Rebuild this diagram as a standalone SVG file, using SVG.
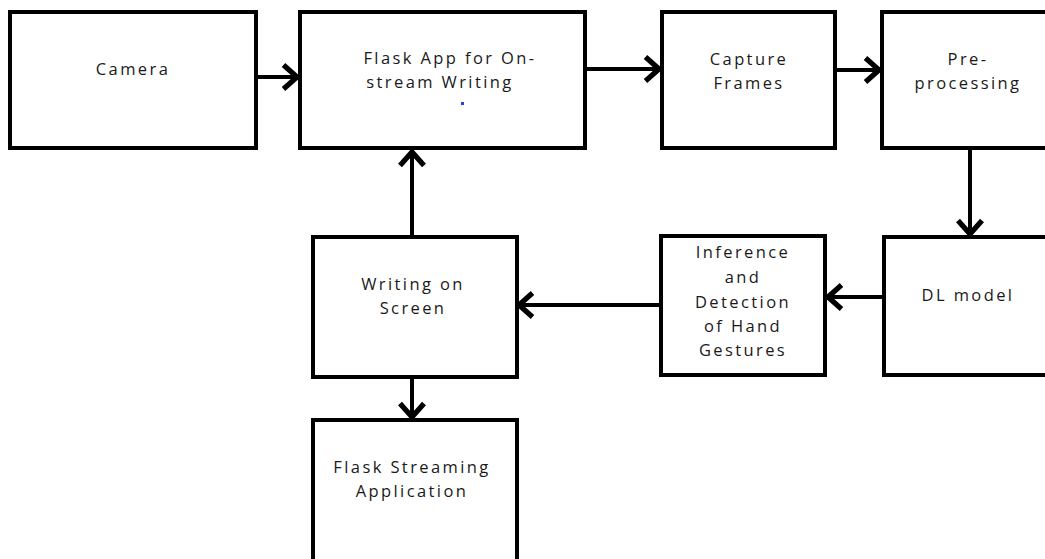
<svg xmlns="http://www.w3.org/2000/svg" width="1045" height="559" viewBox="0 0 1045 559">
<defs>
<style>
.box{fill:#fff;stroke:#000;stroke-width:4}
.t{font-family:"Open Sans","Liberation Sans",Arial,sans-serif;font-size:16.5px;letter-spacing:2.4px;fill:#1a1a1a;text-anchor:middle}
.c{stroke:#000;stroke-width:4;fill:none}
</style>
<marker id="ah" markerUnits="userSpaceOnUse" markerWidth="30" markerHeight="30" refX="14" refY="10" orient="auto" viewBox="0 0 20 20">
<path d="M5,2 L14,10 L5,18" fill="none" stroke="#000" stroke-width="3.5"/>
</marker>
</defs>
<rect width="1045" height="559" fill="#fff"/>
<g id="connectors">
<line class="c" x1="258" y1="77" x2="297" y2="77" marker-end="url(#ah)"/>
<line class="c" x1="587" y1="69" x2="659" y2="69" marker-end="url(#ah)"/>
<line class="c" x1="837" y1="70" x2="879" y2="70" marker-end="url(#ah)"/>
<line class="c" x1="970" y1="150" x2="970" y2="234" marker-end="url(#ah)"/>
<line class="c" x1="884" y1="297" x2="828" y2="297" stroke-width="3" marker-end="url(#ah)"/>
<line class="c" x1="660" y1="305" x2="519" y2="305" marker-end="url(#ah)"/>
<line class="c" x1="412" y1="236" x2="412" y2="152" marker-end="url(#ah)"/>
<line class="c" x1="412" y1="379" x2="412" y2="417" marker-end="url(#ah)"/>
</g>
<g id="camera">
<rect class="box" x="10" y="12" width="246" height="136"/>
<text class="t" x="133" y="75">Camera</text>
</g>
<g id="flask-app">
<rect class="box" x="300" y="12" width="285" height="136"/>
<text class="t" x="450" y="64">Flask App for On-</text>
<text class="t" x="440" y="88">stream Writing</text>
<rect x="461" y="102" width="3" height="3" fill="#2b3fe0"/>
</g>
<g id="capture-frames">
<rect class="box" x="662" y="12" width="173" height="136"/>
<text class="t" x="749" y="65">Capture</text>
<text class="t" x="749" y="89">Frames</text>
</g>
<g id="pre-processing">
<rect class="box" x="882" y="12" width="170" height="136"/>
<text class="t" x="968" y="65">Pre-</text>
<text class="t" x="968" y="89">processing</text>
</g>
<g id="dl-model">
<rect class="box" x="884" y="237" width="168" height="138"/>
<text class="t" x="968" y="301" letter-spacing="0.3">DL model</text>
</g>
<g id="inference">
<rect class="box" x="661" y="236" width="164" height="139"/>
<text class="t" x="743" y="258">Inference</text>
<text class="t" x="743" y="283">and</text>
<text class="t" x="743" y="308">Detection</text>
<text class="t" x="743" y="332">of Hand</text>
<text class="t" x="743" y="356">Gestures</text>
</g>
<g id="writing-on-screen">
<rect class="box" x="313" y="237" width="204" height="140"/>
<text class="t" x="413" y="290">Writing on</text>
<text class="t" x="413" y="314">Screen</text>
</g>
<g id="flask-streaming">
<rect class="box" x="313" y="420" width="204" height="145"/>
<text class="t" x="412" y="473">Flask Streaming</text>
<text class="t" x="412" y="497">Application</text>
</g>
</svg>
